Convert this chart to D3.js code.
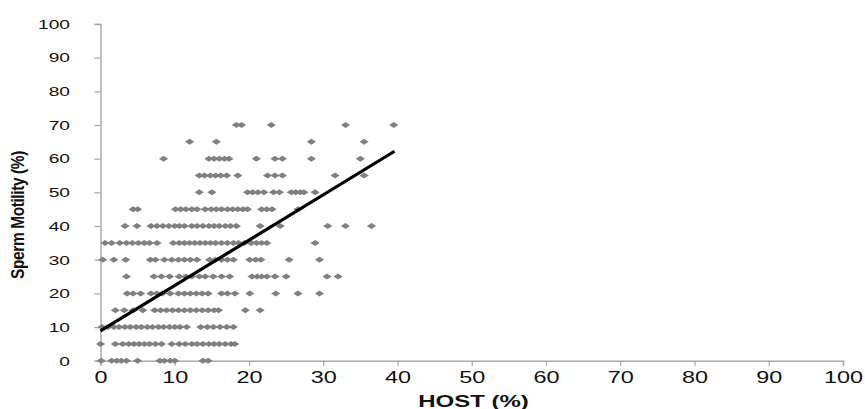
<!DOCTYPE html>
<html>
<head>
<meta charset="utf-8">
<script src="https://cdn.jsdelivr.net/npm/d3@7"></script>
<style>
  html, body { margin: 0; padding: 0; background: #fff; }
  svg { display: block; font-family: "Liberation Sans", Arial, sans-serif; }
</style>
</head>
<body>
<svg id="chart" width="865" height="409"></svg>
<script>
// ---- Data (HOST % values read for each sperm motility level) ----
const hostM0  = [0.1, 1.5, 2.2, 2.8, 3.5, 5.0, 8.0, 8.6, 9.4, 10.0, 13.8, 14.5];
const hostM5  = [0.0, 2.0, 3.0, 3.8, 4.5, 5.2, 5.9, 6.6, 7.4, 8.2, 9.6, 10.6, 11.4, 12.3, 13.0, 13.8, 14.6, 15.3, 16.0, 16.8, 17.6, 18.1];
const hostM10 = [0.2, 1.0, 1.8, 2.5, 3.3, 4.0, 4.8, 5.5, 6.3, 7.0, 7.8, 8.5, 9.3, 10.0, 10.7, 11.6, 13.5, 14.4, 15.2, 16.1, 17.0, 17.9];
const hostM15 = [2.0, 3.2, 4.4, 5.7, 7.3, 8.1, 8.9, 9.7, 10.5, 11.3, 12.1, 12.9, 13.7, 14.5, 15.3, 15.9, 19.5, 21.5];
const hostM20 = [3.6, 4.4, 5.4, 6.8, 7.6, 8.3, 9.4, 10.5, 11.3, 12.1, 12.9, 13.7, 14.5, 16.3, 17.1, 18.1, 20.1, 23.6, 26.6, 29.5];
const hostM25 = [3.5, 7.2, 8.2, 9.3, 10.6, 11.5, 12.3, 13.3, 14.1, 15.2, 16.3, 17.4, 20.4, 21.1, 21.7, 22.4, 23.5, 25.0, 30.5, 32.0];
const hostM30 = [0.3, 1.8, 3.4, 6.7, 7.4, 8.6, 9.6, 10.5, 11.3, 12.1, 13.0, 14.7, 15.5, 16.3, 17.1, 17.9, 20.1, 20.9, 21.6, 25.4, 29.5];
const hostM35 = [0.6, 1.5, 2.6, 3.5, 4.3, 5.1, 5.9, 6.6, 7.6, 9.8, 10.6, 11.3, 12.0, 12.7, 13.4, 14.1, 14.8, 15.5, 16.3, 17.1, 17.9, 18.6, 19.4, 20.3, 21.0, 21.7, 22.4, 28.9];
const hostM40 = [3.3, 4.9, 6.8, 7.6, 8.4, 9.2, 10.0, 10.6, 11.3, 12.3, 13.0, 13.8, 14.6, 15.3, 16.0, 16.8, 17.5, 18.3, 21.5, 24.2, 30.6, 33.0, 36.5];
const hostM45 = [4.4, 5.0, 10.1, 10.8, 11.5, 12.3, 13.0, 14.1, 14.9, 15.6, 16.3, 17.1, 17.8, 18.5, 19.2, 19.8, 21.7, 22.4, 23.1, 26.6];
const hostM50 = [13.3, 15.0, 19.8, 20.5, 21.2, 22.0, 23.3, 24.1, 25.7, 26.3, 26.9, 27.4, 28.9];
const hostM55 = [13.3, 14.0, 14.8, 15.5, 16.2, 17.0, 18.5, 22.5, 23.5, 24.5, 31.6, 35.5];
const hostM60 = [8.5, 14.6, 15.3, 16.0, 16.7, 17.3, 21.0, 23.5, 24.5, 28.4, 35.0];
const hostM65 = [12.0, 15.6, 28.4, 35.5];
const hostM70 = [18.3, 19.0, 23.0, 33.0, 39.5];

const motilityLevels = [0, 5, 10, 15, 20, 25, 30, 35, 40, 45, 50, 55, 60, 65, 70];
const hostRows = [hostM0, hostM5, hostM10, hostM15, hostM20, hostM25, hostM30, hostM35,
                  hostM40, hostM45, hostM50, hostM55, hostM60, hostM65, hostM70];

// Linear trend line end points
const fitHost = [0, 39.6];
const fitMotility = [8.9, 62.2];

const xTicks = [0, 10, 20, 30, 40, 50, 60, 70, 80, 90, 100];
const yTicks = [0, 10, 20, 30, 40, 50, 60, 70, 80, 90, 100];
const xTitle = "HOST (%)";
const yTitle = "Sperm Motility (%)";

// ---- Build point list ----
const points = [];
motilityLevels.forEach((m, i) => hostRows[i].forEach(h => points.push({ host: h, motility: m })));
const fitLine = fitHost.map((h, i) => ({ host: h, motility: fitMotility[i] }));

// ---- Drawing ----
const svg = d3.select("#chart");
const x = d3.scaleLinear().domain([0, 100]).range([100.5, 843]);
const y = d3.scaleLinear().domain([0, 100]).range([360.8, 23.9]);
const SX = 1.42; // horizontal stretch of the original rendering
const axisColor = "#a9a9a9";

// X axis
const gx = svg.append("g")
  .attr("transform", `translate(0,${y(0)})`)
  .call(d3.axisBottom(x).tickValues(xTicks).tickSize(5).tickPadding(5.5).tickFormat(d3.format("d")));
gx.select(".domain").attr("stroke", axisColor).attr("stroke-width", 1.5);
gx.selectAll(".tick line").attr("stroke", axisColor).attr("stroke-width", 1.3);
gx.selectAll(".tick text")
  .attr("font-size", 16.5).attr("fill", "#111")
  .attr("font-family", "'Liberation Sans', Arial, sans-serif")
  .attr("transform", `scale(${SX},1)`);

// Y axis
const gy = svg.append("g")
  .attr("transform", `translate(${x(0)},0)`)
  .call(d3.axisLeft(y).tickValues(yTicks).tickSize(6).tickFormat(d3.format("d")));
gy.select(".domain").attr("stroke", axisColor).attr("stroke-width", 1.5);
gy.selectAll(".tick line").attr("stroke", axisColor).attr("stroke-width", 1.3);
gy.selectAll(".tick text")
  .attr("font-size", 13.5).attr("fill", "#111")
  .attr("font-family", "'Liberation Sans', Arial, sans-serif")
  .attr("x", -30.5 / SX)
  .attr("transform", `scale(${SX},1)`);

// Points (diamonds)
const dw = 4.6, dh = 3.0;
svg.append("g").selectAll("path")
  .data(points)
  .join("path")
  .attr("transform", d => `translate(${x(d.host)},${y(d.motility)})`)
  .attr("d", `M${-dw},0L0,${-dh}L${dw},0L0,${dh}Z`)
  .attr("fill", "#808080");

// Trend line
svg.append("path")
  .datum(fitLine)
  .attr("d", d3.line().x(d => x(d.host)).y(d => y(d.motility)))
  .attr("stroke", "#000")
  .attr("stroke-width", 3.2)
  .attr("fill", "none");

// Axis titles
svg.append("text")
  .attr("transform", `translate(473.5,407) scale(1.5,1)`)
  .attr("text-anchor", "middle")
  .attr("font-size", 16)
  .attr("font-weight", "bold")
  .attr("fill", "#111")
  .text(xTitle);

svg.append("text")
  .attr("transform", `translate(24,215) scale(1.15,1) rotate(-90)`)
  .attr("text-anchor", "middle")
  .attr("font-size", 15.5)
  .attr("font-weight", "bold")
  .attr("letter-spacing", -0.4)
  .attr("fill", "#111")
  .text(yTitle);
</script>
</body>
</html>
